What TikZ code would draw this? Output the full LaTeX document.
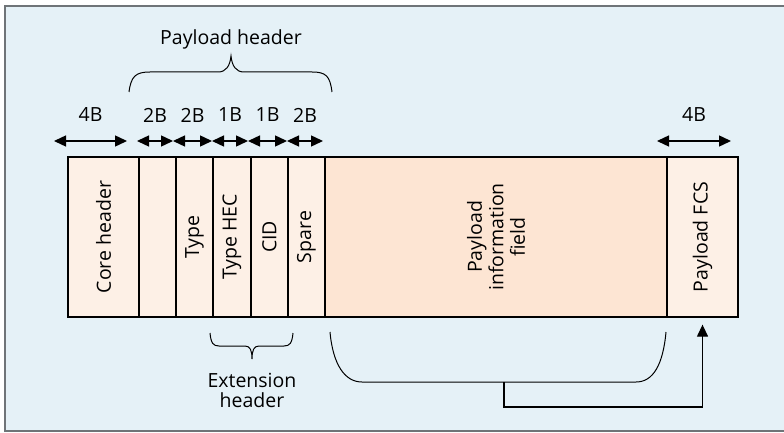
\documentclass[tikz,border=0pt]{standalone}
\usepackage{fontspec}
\setmainfont{Open Sans}
\usetikzlibrary{arrows.meta}
\definecolor{FrameGray}{HTML}{6F7478}
\definecolor{PanelBlue}{HTML}{E5F1F7}
\definecolor{FieldPeach}{HTML}{FDF0E6}
\definecolor{InfoPeach}{HTML}{FDE5D3}

\begin{document}
\begin{tikzpicture}[x=1pt, y=-1pt, >={Triangle[length=12pt,width=11pt]},
    field/.style={draw=black, line width=1.3pt, fill=FieldPeach, rotate=90, inner sep=0pt,
        minimum width=160pt, font=\fontsize{19.5}{21.5}\selectfont},
    dimarrow/.style={<->, line width=1.4pt},
    brace/.style={line width=1pt},
    lbl/.style={font=\fontsize{19.5}{20}\selectfont, align=center}]

    % Page and panel
    \useasboundingbox (0,0) rectangle (784,433);
    \clip (0,0) rectangle (784,433);
    \fill[PanelBlue] (5,6) rectangle (795,431);
    \draw[FrameGray, line width=2pt] (5,6) rectangle (795,431);

    % Frame fields
    \node[field, minimum height=71pt] (core) at (103.5,237) {Core header};
    \node[field, minimum height=37pt] (len) at (157.5,237) {};
    \node[field, minimum height=37pt] (type) at (194.5,237) {Type};
    \node[field, minimum height=38pt] (typehec) at (232,237) {Type HEC};
    \node[field, minimum height=37pt] (cid) at (269.5,237) {CID};
    \node[field, minimum height=37pt] (spare) at (306.5,237) {Spare};
    \node[field, fill=InfoPeach, minimum height=342pt, align=center] (info) at (496,237) {Payload\\information\\field};
    \node[field, minimum height=71pt] (fcs) at (702.5,237) {Payload FCS};

    % Field sizes
    \coordinate (c0) at (54,141);  \coordinate (c1) at (127,141);
    \coordinate (h0) at (137,141); \coordinate (h1) at (173,141);
    \coordinate (h2) at (212,141); \coordinate (h3) at (248,141);
    \coordinate (h4) at (287,141); \coordinate (h5) at (323,141);
    \coordinate (f0) at (657,141); \coordinate (f1) at (731,141);
    \draw[dimarrow] (c0) -- (c1) node[lbl, midway, yshift=26pt] (coresize) {4B};
    \draw[dimarrow] (h0) -- (h1) node[lbl, midway, yshift=26pt] (lensize) {2B};
    \draw[dimarrow] (h1) -- (h2) node[lbl, midway, yshift=26pt] (typesize) {2B};
    \draw[dimarrow] (h2) -- (h3) node[lbl, midway, yshift=26pt] (hecsize) {1B};
    \draw[dimarrow] (h3) -- (h4) node[lbl, midway, yshift=26pt] (cidsize) {1B};
    \draw[dimarrow] (h4) -- (h5) node[lbl, midway, yshift=26pt] (sparesize) {2B};
    \draw[dimarrow] (f0) -- (f1) node[lbl, midway, yshift=26pt] (fcssize) {4B};

    % Payload header brace
    \draw[brace] (129,92) .. controls (131,76) and (136,72) .. (150,72) -- (218,72)
        .. controls (226,72) and (230,66) .. (231,56)
        .. controls (232,66) and (236,72) .. (244,72) -- (312,72)
        .. controls (326,72) and (330,76) .. (332,92);
    \node[lbl] (phead) at (231,39) {Payload header};

    % Extension header brace
    \draw[brace] (210,333) .. controls (211,343) and (213,346) .. (219,346) -- (245,346)
        .. controls (250,346) and (252,350) .. (252,359)
        .. controls (252,350) and (254,346) .. (259,346) -- (284,346)
        .. controls (290,346) and (292,343) .. (293,333);
    \node[lbl] (ehead) at (252,390) {Extension\\header};

    % Checksum coverage
    \coordinate (join) at (504,382);
    \draw[brace] (330,332) .. controls (333,365) and (345,382) .. (362,382) -- (636,382)
        .. controls (653,382) and (663,365) .. (666,332);
    \draw[->, line width=1.3pt] (join) -- ++(0,25) -| ([yshift=-7pt]fcs.west);

\end{tikzpicture}
\end{document}
